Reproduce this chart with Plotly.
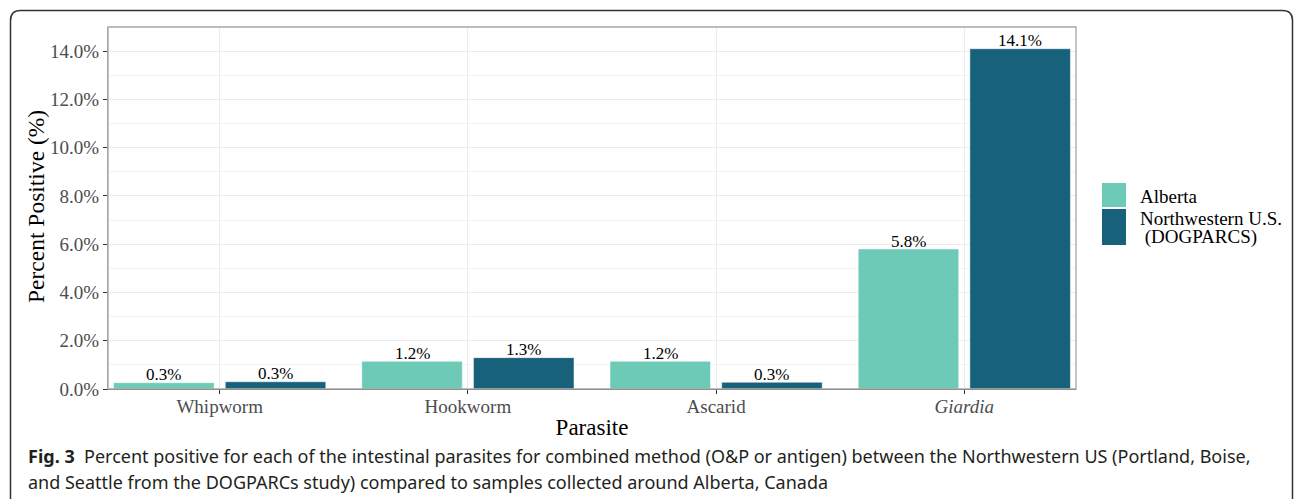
import plotly.graph_objects as go

# ---- data ----
categories = ["Whipworm", "Hookworm", "Ascarid", "Giardia"]
tick_labels = ["Whipworm", "Hookworm", "Ascarid", "<i>Giardia</i>"]
alberta = [0.26, 1.15, 1.15, 5.8]
alberta_labels = ["0.3%", "1.2%", "1.2%", "5.8%"]
nw_us = [0.3, 1.3, 0.28, 14.1]
nw_us_labels = ["0.3%", "1.3%", "0.3%", "14.1%"]
series_names = ["Alberta", "Northwestern U.S.<br> (DOGPARCS)"]
y_ticks = [0, 2, 4, 6, 8, 10, 12, 14]
y_tick_text = [f"{v:.1f}%" for v in y_ticks]

ALB_COLOR = "#6ccab6"
NW_COLOR = "#17617a"
SERIF = "Liberation Serif"
SANS = "Noto Sans"

W, H = 1296, 499
ML, MR, MT, MB = 108, 220, 27, 110
PW, PH = W - ML - MR, H - MT - MB
X_RANGE = [-0.45, 3.45]
BARGAP = 0.1


def px(x):
    return (x - ML) / PW


def py(y):
    return (H - MB - y) / PH


fig = go.Figure()
for vals, name, col in [(alberta, series_names[0], ALB_COLOR), (nw_us, series_names[1], NW_COLOR)]:
    fig.add_trace(go.Bar(
        x=categories, y=vals, name=name,
        marker=dict(color=col, line=dict(color="white", width=0.5)),
        showlegend=False))

annotations = []
# value labels above bars (offset to each bar's group slot)
cat_px = PW / (X_RANGE[1] - X_RANGE[0])
slot_px = cat_px * (1 - BARGAP) / 2
for labels, vals, sgn in [(alberta_labels, alberta, -1), (nw_us_labels, nw_us, 1)]:
    for c, v, t in zip(categories, vals, labels):
        annotations.append(dict(text=t, x=c, y=v, xref="x", yref="y", showarrow=False,
                                xanchor="center", yanchor="middle", xshift=sgn * slot_px / 2,
                                yshift=8, font=dict(family=SERIF, size=17, color="black")))

shapes = []
# panel border (top/right)
shapes.append(dict(type="rect", xref="paper", yref="paper", x0=0, x1=1, y0=0, y1=1,
                   line=dict(color="#a6a6a6", width=1.3), layer="above"))
# outer rounded frame
x0, x1 = px(10.5), px(1292.5)
yt, yb = py(10.5), py(520)
rx, ry = 10 / PW, 10 / PH
path = (f"M {x0},{yb} L {x0},{yt - ry} Q {x0},{yt} {x0 + rx},{yt} "
        f"L {x1 - rx},{yt} Q {x1},{yt} {x1},{yt - ry} L {x1},{yb}")
shapes.append(dict(type="path", xref="paper", yref="paper", path=path,
                   line=dict(color="#333333", width=1.5)))
# legend keys
shapes.append(dict(type="rect", xref="paper", yref="paper", x0=px(1102), x1=px(1126),
                   y0=py(207), y1=py(183), fillcolor=ALB_COLOR, line=dict(width=0)))
shapes.append(dict(type="rect", xref="paper", yref="paper", x0=px(1102), x1=px(1126),
                   y0=py(245), y1=py(209), fillcolor=NW_COLOR, line=dict(width=0)))

leg_font = dict(family=SERIF, size=19, color="black")
for txt, yc in [("Alberta", 196), ("Northwestern U.S.", 218.5), ("\u00a0(DOGPARCS)", 236.5)]:
    annotations.append(dict(text=txt, xref="paper", yref="paper", x=px(1138), y=py(yc),
                            xanchor="left", yanchor="middle", showarrow=False, font=leg_font))
# y-axis title
annotations.append(dict(text="Percent Positive (%)", xref="paper", yref="paper",
                        x=px(36), y=py(207), textangle=-90, xanchor="center", yanchor="middle",
                        showarrow=False, font=dict(family=SERIF, size=23.5, color="black")))
cap_font = dict(family=SANS, size=18, color="#231f20")
annotations.append(dict(
    text="<b>Fig. 3</b>\u00a0 Percent positive for each of the intestinal parasites for combined method "
         "(O&amp;P or antigen) between the Northwestern US (Portland, Boise,",
    xref="paper", yref="paper", x=px(26), y=py(456), xanchor="left", yanchor="middle",
    showarrow=False, font=cap_font))
annotations.append(dict(
    text="and Seattle from the DOGPARCs study) compared to samples collected around Alberta, Canada",
    xref="paper", yref="paper", x=px(26), y=py(482), xanchor="left", yanchor="middle",
    showarrow=False, font=cap_font))

fig.update_layout(
    width=W, height=H, margin=dict(l=ML, r=MR, t=MT, b=MB),
    paper_bgcolor="white", plot_bgcolor="white",
    barmode="group", bargap=BARGAP, bargroupgap=0.1,
    shapes=shapes, annotations=annotations, showlegend=False,
    xaxis=dict(
        range=X_RANGE, tickvals=categories, ticktext=tick_labels,
        showgrid=True, gridcolor="#ebebeb", gridwidth=1.3,
        showline=True, linecolor="#4d4d4d", linewidth=1.3,
        ticks="outside", ticklen=4, tickcolor="#333333", tickwidth=1.2,
        ticklabelstandoff=-4,
        tickfont=dict(family=SERIF, size=19, color="#4d4d4d"),
        title=dict(text="Parasite", font=dict(family=SERIF, size=23, color="black"), standoff=2),
        zeroline=False, fixedrange=True),
    yaxis=dict(
        range=[0, 15.0], tickvals=y_ticks, ticktext=y_tick_text,
        showgrid=True, gridcolor="#ebebeb", gridwidth=1.3,
        minor=dict(dtick=1, tick0=1, showgrid=True, gridcolor="#f3f3f3", gridwidth=0.8),
        showline=True, linecolor="#a6a6a6", linewidth=1.3,
        ticks="outside", ticklen=4, tickcolor="#333333", tickwidth=1.2,
        tickfont=dict(family=SERIF, size=19, color="#4d4d4d"),
        zeroline=False, fixedrange=True),
)

fig.write_html("out.html", config={"displayModeBar": False},
               post_script="document.body.style.margin='0';")
